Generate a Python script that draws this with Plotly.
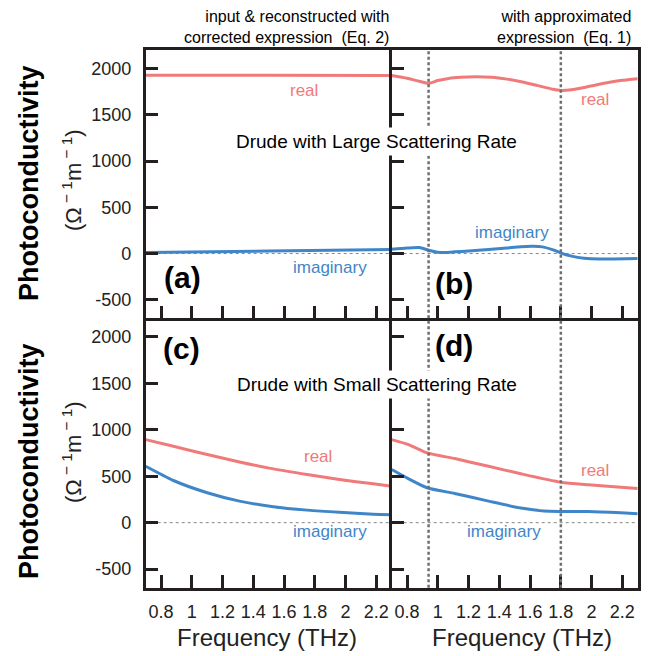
import plotly.graph_objects as go

# ---------------- data ----------------
x_tick_vals = [0.8, 1.0, 1.2, 1.4, 1.6, 1.8, 2.0, 2.2]
x_tick_text = ["0.8", "1", "1.2", "1.4", "1.6", "1.8", "2", "2.2"]
y_tick_vals = [-500, 0, 500, 1000, 1500, 2000]
y_tick_text = ["-500", "0", "500", "1000", "1500", "2000"]

# (a) large scattering, corrected expression
freq_a = [0.70, 1.50, 2.30]
real_a = [1928, 1927, 1925]
imag_a = [11, 27, 43]

# (b) large scattering, approximated expression
freq_b_real = [0.70, 0.80, 0.87, 0.94, 1.00, 1.07, 1.15, 1.25, 1.35, 1.45, 1.55,
               1.65, 1.75, 1.80, 1.87, 1.98, 2.10, 2.20, 2.30]
real_b = [1925, 1895, 1866, 1840, 1870, 1893, 1905, 1910, 1905, 1885, 1855,
          1815, 1775, 1762, 1770, 1805, 1845, 1872, 1890]
freq_b_imag = [0.70, 0.80, 0.88, 0.94, 1.00, 1.05, 1.11, 1.20, 1.33, 1.45, 1.54,
               1.62, 1.68, 1.75, 1.80, 1.87, 1.95, 2.05, 2.15, 2.30]
imag_b = [46, 60, 65, 36, 14, 12, 18, 28, 43, 60, 74,
          78, 72, 40, 5, -28, -50, -60, -58, -54]

# (c) small scattering, corrected expression
freq_c = [0.70, 0.88, 1.10, 1.31, 1.53, 1.75, 1.96, 2.18, 2.30]
real_c = [894, 822, 733, 654, 579, 518, 465, 418, 393]
imag_c = [607, 454, 322, 232, 172, 135, 111, 92, 86]

# (d) small scattering, approximated expression
freq_d_real = [0.70, 0.81, 0.93, 1.11, 1.33, 1.54, 1.80, 1.98, 2.19, 2.30]
real_d = [894, 840, 751, 690, 607, 526, 436, 408, 382, 368]
freq_d_imag = [0.70, 0.81, 0.93, 1.11, 1.33, 1.54, 1.69, 1.80, 1.98, 2.19, 2.30]
imag_d = [572, 472, 376, 314, 232, 157, 125, 121, 121, 107, 97]

marker_freqs = [0.94, 1.80]

RED = "#f07a7a"
BLUE = "#3f86c9"
FRAME = "#231f20"
FONT = "Liberation Sans, Arial, sans-serif"

W, H = 650, 656
xl0, xmid, xr1 = 145.7, 391.7, 637.7
yt0, ymid, yb1 = 50.0, 318.3, 587.7


def px(xp):
    return xp / W


def py(yp):
    return 1 - yp / H


fig = go.Figure()

panels = [
    ("x", "y", freq_a, real_a, freq_a, imag_a),
    ("x2", "y2", freq_b_real, real_b, freq_b_imag, imag_b),
    ("x3", "y3", freq_c, real_c, freq_c, imag_c),
    ("x4", "y4", freq_d_real, real_d, freq_d_imag, imag_d),
]
for xa, ya, fr, re, fi, im in panels:
    fig.add_trace(go.Scatter(x=fr, y=re, mode="lines", xaxis=xa, yaxis=ya,
                             line=dict(color=RED, width=3, shape="spline", smoothing=0.6),
                             showlegend=False, hoverinfo="skip"))
    fig.add_trace(go.Scatter(x=fi, y=im, mode="lines", xaxis=xa, yaxis=ya,
                             line=dict(color=BLUE, width=3, shape="spline", smoothing=0.6),
                             showlegend=False, hoverinfo="skip"))

axis_common = dict(
    range=[0.7, 2.3], tickvals=x_tick_vals, ticktext=x_tick_text,
    ticks="inside", ticklen=13, tickwidth=2.5, tickcolor=FRAME,
    showline=True, linewidth=2.5, linecolor=FRAME,
    showgrid=False, zeroline=False,
    tickfont=dict(family=FONT, size=18, color="#222"),
)
yaxis_common = dict(
    range=[-700, 2200], tickvals=y_tick_vals, ticktext=y_tick_text,
    ticks="inside", ticklen=13, tickwidth=2.5, tickcolor=FRAME,
    showline=True, linewidth=2.5, linecolor=FRAME,
    showgrid=False, zeroline=False,
    tickfont=dict(family=FONT, size=18, color="#222"),
)

dom_left = [px(xl0), px(xmid)]
dom_right = [px(xmid), px(xr1)]
dom_top = [py(ymid), py(yt0)]
dom_bot = [py(yb1), py(ymid)]

fig.update_layout(
    width=W, height=H,
    margin=dict(l=0, r=0, t=0, b=0),
    paper_bgcolor="white", plot_bgcolor="white",
    xaxis=dict(axis_common, domain=dom_left, anchor="y", showticklabels=False, mirror=True),
    yaxis=dict(yaxis_common, domain=dom_top, anchor="x", ticklabelstandoff=8, mirror=False),
    xaxis2=dict(axis_common, domain=dom_right, anchor="y2", showticklabels=False, mirror=True),
    yaxis2=dict(yaxis_common, domain=dom_top, anchor="x2", showticklabels=False, mirror=True),
    xaxis3=dict(axis_common, domain=dom_left, anchor="y3", ticklabelstandoff=6, mirror=False),
    yaxis3=dict(yaxis_common, domain=dom_bot, anchor="x3", ticklabelstandoff=8, mirror=False),
    xaxis4=dict(axis_common, domain=dom_right, anchor="y4", ticklabelstandoff=6, mirror=False),
    yaxis4=dict(yaxis_common, domain=dom_bot, anchor="x4", showticklabels=False, mirror=True),
)

shapes = []
# dotted zero lines
for xa, ya in [("x", "y"), ("x2", "y2"), ("x3", "y3"), ("x4", "y4")]:
    shapes.append(dict(type="line", xref=f"{xa} domain", x0=0, x1=1, yref=ya, y0=0, y1=0,
                       line=dict(color="#888", width=1, dash="dot"), layer="below"))
# vertical dashed markers in right panels
for f in marker_freqs:
    for ya in ["y2", "y4"]:
        shapes.append(dict(type="line", xref="x2" if ya == "y2" else "x4", x0=f, x1=f,
                           yref=f"{ya} domain", y0=0, y1=1,
                           line=dict(color="#6e6e6e", width=2.5, dash="3px,2.5px"), layer="above"))
fig.update_layout(shapes=shapes)

ann = []


def text(x, y, s, size, color="black", xref="paper", yref="paper", bold=False, **kw):
    d = dict(x=x, y=y, xref=xref, yref=yref, text=(f"<b>{s}</b>" if bold else s),
             showarrow=False, font=dict(family=FONT, size=size, color=color),
             xanchor="center", yanchor="middle")
    d.update(kw)
    ann.append(d)


# top titles
text(px(391), py(6), "input &amp; reconstructed with<br>corrected expression  (Eq. 2)", 16,
     xanchor="right", yanchor="top", align="right")
text(px(633), py(6), "with approximated<br>expression  (Eq. 1)", 16,
     xanchor="right", yanchor="top", align="right")

# curve labels
text(1.73, 1760, "real", 17, RED, "x", "y")
text(1.90, -150, "imaginary", 17, BLUE, "x", "y")
text(2.02, 1665, "real", 17, RED, "x2", "y2")
text(1.48, 230, "imaginary", 17, BLUE, "x2", "y2")
text(1.82, 710, "real", 17, RED, "x3", "y3")
text(1.90, -100, "imaginary", 17, BLUE, "x3", "y3")
text(2.02, 560, "real", 17, RED, "x4", "y4")
text(1.43, -90, "imaginary", 17, BLUE, "x4", "y4")

# panel letters
text(px(182.7), py(277), "(a)", 30, bold=True)
text(px(453.5), py(283), "(b)", 30, bold=True)
text(px(181.7), py(348), "(c)", 30, bold=True)
text(px(454), py(345), "(d)", 30, bold=True)

# Drude captions (white box hides lines beneath)
text(px(376.5), py(141.7), "Drude with Large Scattering Rate", 19, bgcolor="white", borderpad=3)
text(px(376.5), py(384), "Drude with Small Scattering Rate", 19, bgcolor="white", borderpad=3)

# y-axis titles
for yc, yu in [(183, 180), (461, 452)]:
    text(px(29), py(yc), "Photoconductivity", 27, bold=True, textangle=-90)
    text(px(72), py(yu), "(Ω<sup> − 1</sup>m<sup> − 1</sup>)", 22, "#222", textangle=-90)

# x-axis titles
text(px(267), py(637), "Frequency (THz)", 24, "#222")
text(px(522), py(637), "Frequency (THz)", 24, "#222")

fig.update_layout(annotations=ann)

fig.write_html("out.html", config={"displayModeBar": False},
               post_script="document.body.style.margin='0px';")
